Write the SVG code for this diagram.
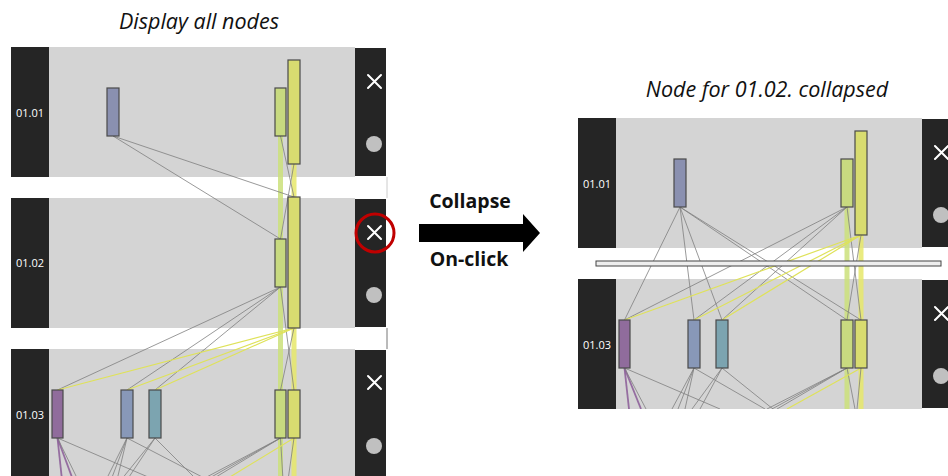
<svg xmlns="http://www.w3.org/2000/svg" width="948" height="476" viewBox="0 0 948 476">
  <defs>
    <style>
      .lab { fill: #252525; }
      .lane { fill: #d4d4d4; }
      .ctl { fill: #252525; }
      .lt { font-family: 'Open Sans', 'Liberation Sans', sans-serif; font-size: 11px; fill: #ffffff; text-anchor: middle; }
      .title { font-family: 'Open Sans', 'Liberation Sans', sans-serif; font-style: italic; font-size: 21.5px; fill: #111; text-anchor: middle; }
      .cap { font-family: 'Open Sans', 'Liberation Sans', sans-serif; font-weight: bold; font-size: 19.5px; fill: #111; text-anchor: middle; }
      .e { stroke: #808080; stroke-width: 1; stroke-opacity: 0.8; fill: none; }
      .ey { stroke: #dfe25a; stroke-width: 1.2; fill: none; }
      .ep { stroke: #8a5a96; stroke-width: 1.8; stroke-opacity: 0.85; fill: none; }
      .bg { stroke: #cbe07a; stroke-width: 5; stroke-opacity: 0.85; fill: none; }
      .by { stroke: #e6e76a; stroke-width: 5; stroke-opacity: 0.85; fill: none; }
      .n { stroke: #4a4a4a; stroke-width: 1.2; }
      .c1 { fill: #8a90b0; }
      .cg { fill: #c8da80; }
      .cy { fill: #d8dc70; }
      .cp { fill: #906c9c; }
      .cb { fill: #8898b8; }
      .ct { fill: #7ca4b0; }
      .x { stroke: #ffffff; stroke-width: 2; stroke-linecap: round; }
      .dot { fill: #c0c0c0; }
    </style>
    <clipPath id="rightClip">
      <rect x="560" y="100" width="388" height="309"/>
    </clipPath>
  </defs>

  <rect width="948" height="476" fill="#ffffff"/>

  <!-- Left view: all rows expanded -->
  <text class="title" x="199" y="29">Display all nodes</text>

  <g id="left-row-0101">
    <rect class="lane" x="49" y="47" width="306" height="130"/>
    <rect class="lab" x="11" y="47" width="38" height="130"/>
    <text class="lt" x="30" y="117">01.01</text>
    <rect class="ctl" x="355" y="48" width="31" height="128"/>
    <path class="x" d="M368 75 L381 88 M381 75 L368 88"/>
    <circle class="dot" cx="374" cy="144" r="8"/>
  </g>
  <g id="left-row-0102">
    <rect class="lane" x="49" y="198" width="306" height="130"/>
    <rect class="lab" x="11" y="198" width="38" height="130"/>
    <text class="lt" x="30" y="267">01.02</text>
    <rect class="ctl" x="355" y="199" width="31" height="128"/>
    <path class="x" d="M368 226 L381 239 M381 226 L368 239"/>
    <circle class="dot" cx="374" cy="295" r="8"/>
  </g>
  <g id="left-row-0103">
    <rect class="lane" x="49" y="349" width="306" height="130"/>
    <rect class="lab" x="11" y="349" width="38" height="130"/>
    <text class="lt" x="30" y="419">01.03</text>
    <rect class="ctl" x="355" y="350" width="31" height="130"/>
    <path class="x" d="M368 376 L381 389 M381 376 L368 389"/>
    <circle class="dot" cx="374" cy="446" r="8"/>
  </g>
  <line x1="387" y1="177" x2="387" y2="198" stroke="#cccccc" stroke-width="1"/>
  <line x1="387" y1="328" x2="387" y2="349" stroke="#777777" stroke-width="1"/>

  <g id="left-edges">
    <!-- bundled flows -->
    <line class="bg" x1="280.5" y1="136" x2="280.5" y2="480"/>
    <line class="by" x1="294" y1="164" x2="294" y2="480"/>
    <!-- 01.01 to 01.02 -->
    <line class="e" x1="113" y1="136" x2="280.5" y2="239"/>
    <line class="e" x1="113" y1="136" x2="294" y2="197"/>
    <line class="e" x1="280.5" y1="136" x2="294" y2="197"/>
    <line class="e" x1="294" y1="164" x2="280.5" y2="239"/>
    <!-- 01.02 to 01.03 -->
    <line class="e" x1="280.5" y1="287" x2="57.5" y2="390"/>
    <line class="e" x1="280.5" y1="287" x2="127" y2="390"/>
    <line class="e" x1="280.5" y1="287" x2="155" y2="390"/>
    <line class="e" x1="280.5" y1="287" x2="294" y2="390"/>
    <line class="e" x1="294" y1="328" x2="280.5" y2="390"/>
    <line class="ey" x1="294" y1="328" x2="57.5" y2="390"/>
    <line class="ey" x1="294" y1="328" x2="127" y2="390"/>
    <line class="ey" x1="294" y1="328" x2="155" y2="390"/>
    <!-- 01.03 onwards -->
    <line class="ep" x1="57.5" y1="438" x2="62" y2="480"/>
    <line class="ep" x1="57.5" y1="438" x2="73" y2="480"/>
    <line class="e" x1="57.5" y1="438" x2="78" y2="480"/>
    <line class="e" x1="57.5" y1="438" x2="155" y2="480"/>
    <line class="e" x1="127" y1="438" x2="106" y2="480"/>
    <line class="e" x1="127" y1="438" x2="111" y2="480"/>
    <line class="e" x1="127" y1="438" x2="117" y2="480"/>
    <line class="e" x1="127" y1="438" x2="208" y2="480"/>
    <line class="e" x1="155" y1="438" x2="121" y2="480"/>
    <line class="e" x1="155" y1="438" x2="127" y2="480"/>
    <line class="e" x1="155" y1="438" x2="197" y2="480"/>
    <line class="e" x1="280.5" y1="438" x2="201" y2="480"/>
    <line class="e" x1="280.5" y1="438" x2="206" y2="480"/>
    <line class="e" x1="280.5" y1="438" x2="211" y2="480"/>
    <line class="e" x1="280.5" y1="438" x2="283" y2="480"/>
    <line class="ey" x1="294" y1="438" x2="225" y2="480"/>
    <line class="e" x1="294" y1="438" x2="288" y2="480"/>
  </g>

  <g id="left-0101-a"><rect class="n c1" x="107" y="88" width="12" height="48"/></g>
  <g id="left-0101-b"><rect class="n cg" x="275" y="88" width="11" height="48"/></g>
  <g id="left-0101-c"><rect class="n cy" x="288" y="60" width="12" height="104"/></g>
  <g id="left-0102-b"><rect class="n cg" x="275" y="239" width="11" height="48"/></g>
  <g id="left-0102-c"><rect class="n cy" x="288" y="197" width="12" height="131"/></g>
  <g id="left-0103-a"><rect class="n cp" x="52" y="390" width="11" height="48"/></g>
  <g id="left-0103-b"><rect class="n cb" x="121" y="390" width="12" height="48"/></g>
  <g id="left-0103-c"><rect class="n ct" x="149" y="390" width="12" height="48"/></g>
  <g id="left-0103-d"><rect class="n cg" x="275" y="390" width="11" height="48"/></g>
  <g id="left-0103-e"><rect class="n cy" x="288" y="390" width="12" height="48"/></g>

  <!-- highlight on the collapse button -->
  <circle cx="375" cy="233" r="19" fill="none" stroke="#c00000" stroke-width="3"/>

  <!-- Action arrow -->
  <g id="action">
    <text class="cap" x="470" y="208">Collapse</text>
    <polygon points="419,224 523,224 523,214 540,233 523,252 523,242 419,242" fill="#000000"/>
    <text class="cap" x="469" y="266">On-click</text>
  </g>

  <!-- Right view: 01.02 collapsed -->
  <text class="title" x="767" y="97">Node for 01.02. collapsed</text>

  <g id="right-row-0101">
    <rect class="lane" x="616" y="118" width="306" height="130"/>
    <rect class="lab" x="578" y="118" width="38" height="130"/>
    <text class="lt" x="597" y="188">01.01</text>
    <rect class="ctl" x="922" y="119" width="26" height="128"/>
    <path class="x" d="M935 146 L948 159 M948 146 L935 159"/>
    <circle class="dot" cx="941" cy="215" r="8"/>
  </g>
  <g id="right-row-0103">
    <rect class="lane" x="616" y="279" width="306" height="130"/>
    <rect class="lab" x="578" y="279" width="38" height="130"/>
    <text class="lt" x="597" y="349">01.03</text>
    <rect class="ctl" x="922" y="280" width="26" height="128"/>
    <path class="x" d="M935 307 L948 320 M948 307 L935 320"/>
    <circle class="dot" cx="941" cy="376" r="8"/>
  </g>

  <g id="right-edges" clip-path="url(#rightClip)">
    <line class="bg" x1="847" y1="207" x2="847" y2="409"/>
    <line class="by" x1="861" y1="235" x2="861" y2="409"/>
    <!-- 01.01 to 01.03 -->
    <line class="e" x1="680" y1="207" x2="624.5" y2="320"/>
    <line class="e" x1="680" y1="207" x2="694" y2="320"/>
    <line class="e" x1="680" y1="207" x2="722" y2="320"/>
    <line class="e" x1="680" y1="207" x2="847" y2="320"/>
    <line class="e" x1="680" y1="207" x2="861" y2="320"/>
    <line class="e" x1="847" y1="207" x2="624.5" y2="320"/>
    <line class="e" x1="847" y1="207" x2="694" y2="320"/>
    <line class="e" x1="847" y1="207" x2="722" y2="320"/>
    <line class="e" x1="847" y1="207" x2="861" y2="320"/>
    <line class="e" x1="861" y1="235" x2="847" y2="320"/>
    <line class="ey" x1="861" y1="235" x2="624.5" y2="320"/>
    <line class="ey" x1="861" y1="235" x2="694" y2="320"/>
    <line class="ey" x1="861" y1="235" x2="722" y2="320"/>
    <!-- 01.03 onwards -->
    <line class="ep" x1="624.5" y1="368" x2="629" y2="409"/>
    <line class="ep" x1="624.5" y1="368" x2="641" y2="409"/>
    <line class="e" x1="624.5" y1="368" x2="646" y2="409"/>
    <line class="e" x1="624.5" y1="368" x2="720" y2="409"/>
    <line class="e" x1="694" y1="368" x2="672" y2="409"/>
    <line class="e" x1="694" y1="368" x2="678" y2="409"/>
    <line class="e" x1="694" y1="368" x2="685" y2="409"/>
    <line class="e" x1="694" y1="368" x2="765" y2="409"/>
    <line class="e" x1="722" y1="368" x2="692" y2="409"/>
    <line class="e" x1="722" y1="368" x2="700" y2="409"/>
    <line class="e" x1="722" y1="368" x2="773" y2="409"/>
    <line class="e" x1="847" y1="368" x2="767" y2="409"/>
    <line class="e" x1="847" y1="368" x2="772" y2="409"/>
    <line class="e" x1="847" y1="368" x2="777" y2="409"/>
    <line class="e" x1="847" y1="368" x2="855" y2="409"/>
    <line class="ey" x1="861" y1="368" x2="787" y2="409"/>
    <line class="e" x1="861" y1="368" x2="857" y2="409"/>
  </g>

  <!-- collapsed 01.02 row -->
  <g id="right-row-0102">
    <rect x="596" y="261" width="345" height="5" fill="#eeeeee" stroke="#444444" stroke-width="1"/>
  </g>

  <g id="right-0101-a"><rect class="n c1" x="674" y="159" width="12" height="48"/></g>
  <g id="right-0101-b"><rect class="n cg" x="841" y="159" width="12" height="48"/></g>
  <g id="right-0101-c"><rect class="n cy" x="855" y="131" width="12" height="104"/></g>
  <g id="right-0103-a"><rect class="n cp" x="619" y="320" width="11" height="48"/></g>
  <g id="right-0103-b"><rect class="n cb" x="688" y="320" width="12" height="48"/></g>
  <g id="right-0103-c"><rect class="n ct" x="716" y="320" width="12" height="48"/></g>
  <g id="right-0103-d"><rect class="n cg" x="841" y="320" width="12" height="48"/></g>
  <g id="right-0103-e"><rect class="n cy" x="855" y="320" width="12" height="48"/></g>
</svg>
